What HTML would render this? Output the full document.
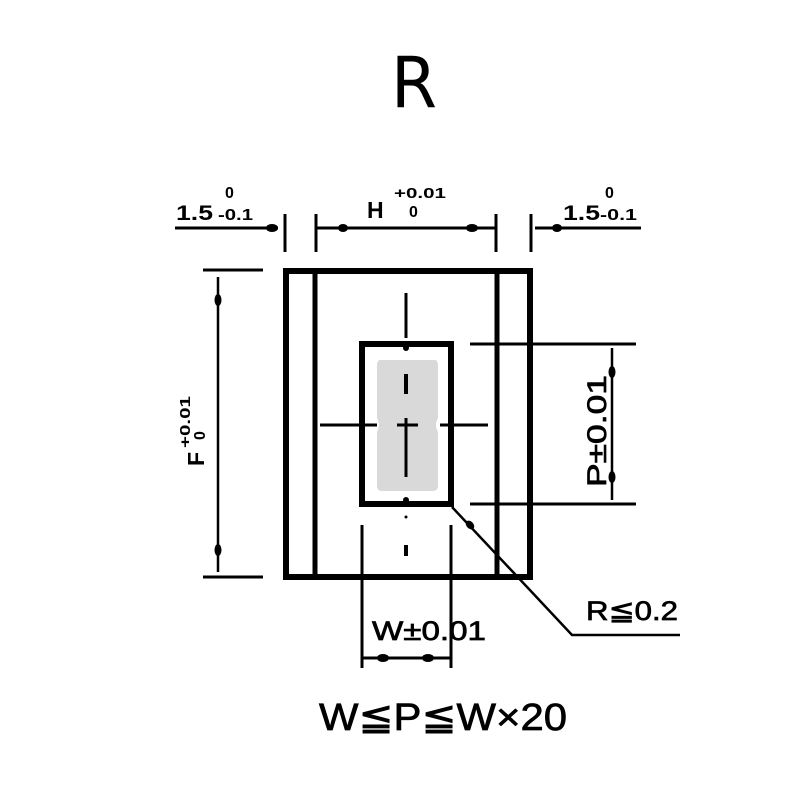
<!DOCTYPE html>
<html><head><meta charset="utf-8"><style>html,body{margin:0;padding:0;background:#fff}svg{display:block}</style></head>
<body>
<svg width="800" height="800" viewBox="0 0 800 800" xmlns="http://www.w3.org/2000/svg" font-family="Liberation Sans, DejaVu Sans, sans-serif">
<text x="391" y="107" font-family="DejaVu Sans, sans-serif" font-size="70" textLength="46" lengthAdjust="spacingAndGlyphs">R</text>

<g stroke="#000" fill="none">
<line x1="175" y1="228" x2="278" y2="228" stroke-width="3"/>
<line x1="285" y1="214" x2="285" y2="252" stroke-width="3"/>
<line x1="316" y1="214" x2="316" y2="252" stroke-width="3"/>
<line x1="316" y1="228" x2="496" y2="228" stroke-width="3"/>
<line x1="496" y1="214" x2="496" y2="252" stroke-width="3"/>
<line x1="531" y1="214" x2="531" y2="252" stroke-width="3"/>
<line x1="535" y1="228" x2="641" y2="228" stroke-width="3"/>
<rect x="286" y="271" width="244" height="306" stroke-width="6"/>
<line x1="315" y1="271" x2="315" y2="577" stroke-width="5"/>
<line x1="497" y1="271" x2="497" y2="577" stroke-width="5"/>
</g>
<path d="M380 360 H435 Q438 360 438 366 V418 Q434 425 438 432 V486 Q438 491 432 491 H382 Q377 491 377 486 V432 Q381 425 377 418 V366 Q377 360 380 360Z" fill="#d9d9d9"/>
<g stroke="#000" fill="none">
<rect x="362" y="344" width="89" height="160" stroke-width="6"/>
<line x1="406" y1="293" x2="406" y2="338" stroke-width="3"/>
<line x1="406" y1="374" x2="406" y2="394" stroke-width="4"/>
<line x1="397" y1="425" x2="418" y2="425" stroke-width="3"/>
<line x1="406" y1="418" x2="406" y2="477" stroke-width="3"/>
<line x1="406" y1="545" x2="406" y2="556" stroke-width="4"/>
<line x1="320" y1="425" x2="377" y2="425" stroke-width="3"/>
<line x1="440" y1="425" x2="488" y2="425" stroke-width="3"/>
<line x1="470" y1="344" x2="636" y2="344" stroke-width="3"/>
<line x1="470" y1="504" x2="636" y2="504" stroke-width="3"/>
<line x1="612" y1="348" x2="612" y2="500" stroke-width="2.5"/>
<line x1="203" y1="270" x2="263" y2="270" stroke-width="3"/>
<line x1="203" y1="577" x2="263" y2="577" stroke-width="3"/>
<line x1="218" y1="277" x2="218" y2="572" stroke-width="2.5"/>
<line x1="362" y1="525" x2="362" y2="668" stroke-width="3"/>
<line x1="451" y1="525" x2="451" y2="668" stroke-width="3"/>
<line x1="362" y1="658" x2="451" y2="658" stroke-width="3"/>
<polyline points="452,507 572,635 680,635" stroke-width="2.5"/>
</g>
<g fill="#000">
<ellipse cx="272" cy="228" rx="6" ry="4"/>
<ellipse cx="343" cy="228" rx="5" ry="4"/>
<ellipse cx="472" cy="228" rx="6" ry="4"/>
<ellipse cx="557" cy="228" rx="5" ry="4"/>
<ellipse cx="612" cy="372" rx="3.5" ry="6"/>
<ellipse cx="612" cy="477" rx="3.5" ry="6"/>
<ellipse cx="218" cy="300" rx="3.5" ry="6"/>
<ellipse cx="218" cy="550" rx="3.5" ry="6"/>
<ellipse cx="383" cy="658" rx="6" ry="4"/>
<ellipse cx="428" cy="658" rx="6" ry="4"/>
<ellipse cx="470" cy="525" rx="5" ry="3.5" transform="rotate(47 470 525)"/>
<circle cx="406" cy="348" r="3"/>
<circle cx="406" cy="500" r="3"/>
<circle cx="406" cy="517" r="1.5"/>
</g>
<g font-weight="bold" fill="#000">
<text x="176" y="220" font-size="21" textLength="37" lengthAdjust="spacingAndGlyphs">1.5</text>
<text x="225" y="198" font-size="16">0</text>
<text x="218" y="220" font-size="16" textLength="35" lengthAdjust="spacingAndGlyphs">-0.1</text>
<text x="563" y="220" font-size="21" textLength="37" lengthAdjust="spacingAndGlyphs">1.5</text>
<text x="605" y="198" font-size="16">0</text>
<text x="600" y="220" font-size="16" textLength="37" lengthAdjust="spacingAndGlyphs">-0.1</text>
<text x="367" y="218" font-size="23">H</text>
<text x="394" y="198" font-size="15" textLength="52" lengthAdjust="spacingAndGlyphs">+0.01</text>
<text x="409" y="217" font-size="16">0</text>
<g transform="translate(204 466) rotate(-90)">
<text x="0" y="0" font-size="23">F</text>
<text x="18" y="-14" font-size="15" textLength="52" lengthAdjust="spacingAndGlyphs">+0.01</text>
<text x="26" y="1" font-size="16">0</text>
</g>
</g>
<g fill="#000" stroke="#000" stroke-width="0.7">
<text transform="translate(606 487) rotate(-90)" font-size="27" textLength="112" lengthAdjust="spacingAndGlyphs">P±0.01</text>
<text x="372" y="640" font-size="27" textLength="114" lengthAdjust="spacingAndGlyphs">W±0.01</text>
<text x="586" y="620" font-size="27" textLength="92" lengthAdjust="spacingAndGlyphs">R≦0.2</text>
<text x="319" y="730" font-size="38" textLength="248" lengthAdjust="spacingAndGlyphs">W≦P≦W×20</text>
</g>
</svg>
</body></html>
